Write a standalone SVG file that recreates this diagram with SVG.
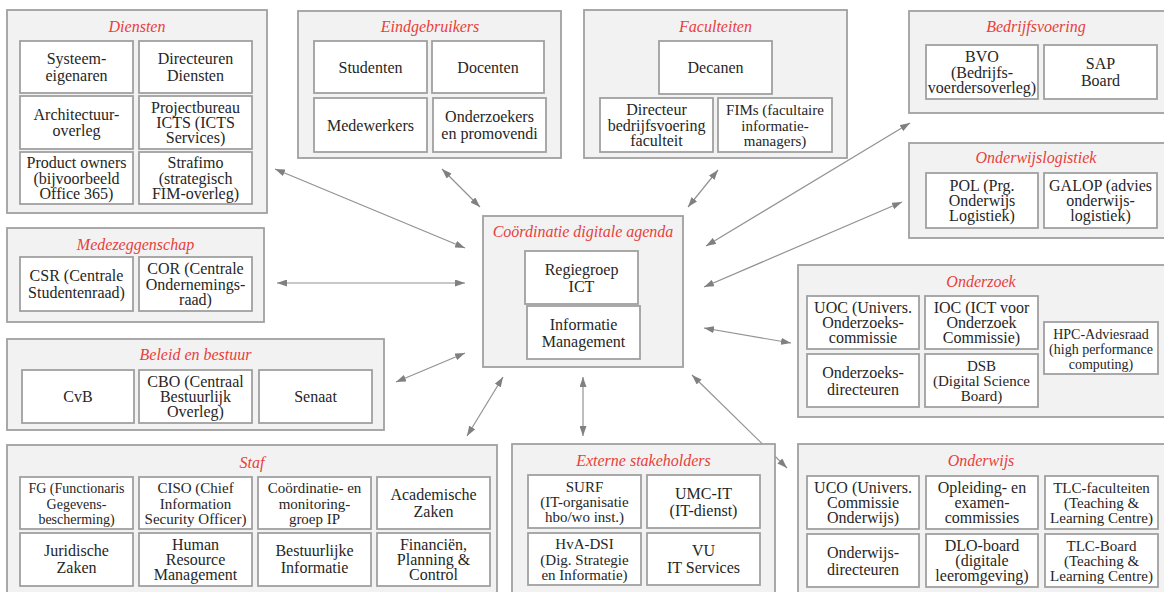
<svg xmlns="http://www.w3.org/2000/svg" width="1164" height="592" viewBox="0 0 1164 592">
<defs>
<style>
.grp{fill:#f2f2f2;stroke:#a0a0a0;stroke-width:1.8}
.box{fill:#ffffff;stroke:#a0a0a0;stroke-width:1.8}
.t{font-family:"Liberation Serif","Times New Roman",serif;font-size:16px;fill:#262626;text-anchor:middle}
.s15{font-size:15px}
.s14{font-size:14px}
.h{font-family:"Liberation Serif","Times New Roman",serif;font-size:16px;font-style:italic;fill:#e8403c;text-anchor:middle}
.c{fill:none;stroke:#929292;stroke-width:1.2}
</style>
<marker id="ah" viewBox="0 0 10 7" refX="10" refY="3.5" markerWidth="10" markerHeight="7" markerUnits="userSpaceOnUse" orient="auto-start-reverse">
<path d="M0,0 L10,3.5 L0,7 z" fill="#808080"/>
</marker>
</defs>
<rect width="1164" height="592" fill="#ffffff"/>

<g id="connectors">
<line class="c" x1="275" y1="169" x2="465" y2="248" marker-start="url(#ah)" marker-end="url(#ah)"/>
<line class="c" x1="442" y1="169" x2="480" y2="207" marker-start="url(#ah)" marker-end="url(#ah)"/>
<line class="c" x1="718" y1="170" x2="688" y2="207" marker-start="url(#ah)" marker-end="url(#ah)"/>
<line class="c" x1="910" y1="123" x2="706" y2="246" marker-start="url(#ah)" marker-end="url(#ah)"/>
<line class="c" x1="902" y1="202" x2="704" y2="287" marker-start="url(#ah)" marker-end="url(#ah)"/>
<line class="c" x1="277" y1="283" x2="465" y2="283" marker-start="url(#ah)" marker-end="url(#ah)"/>
<line class="c" x1="396" y1="382" x2="465" y2="353" marker-start="url(#ah)" marker-end="url(#ah)"/>
<line class="c" x1="704" y1="328" x2="791" y2="343" marker-start="url(#ah)" marker-end="url(#ah)"/>
<line class="c" x1="503" y1="377" x2="467" y2="436" marker-start="url(#ah)" marker-end="url(#ah)"/>
<line class="c" x1="583" y1="377" x2="583" y2="436" marker-start="url(#ah)" marker-end="url(#ah)"/>
<line class="c" x1="692" y1="375" x2="787" y2="468" marker-start="url(#ah)" marker-end="url(#ah)"/>
</g>

<g id="diensten">
<rect class="grp" x="7" y="10" width="260" height="203"/>
<text class="h" x="137" y="32">Diensten</text>
<rect class="box" x="20" y="41" width="113" height="52"/>
<text class="t" x="76.5" y="64">Systeem-<tspan x="76.5" dy="17">eigenaren</tspan></text>
<rect class="box" x="139" y="41" width="113" height="52"/>
<text class="t" x="195.5" y="64">Directeuren<tspan x="195.5" dy="17">Diensten</tspan></text>
<rect class="box" x="20" y="96" width="113" height="53"/>
<text class="t" x="76.5" y="120">Architectuur-<tspan x="76.5" dy="16">overleg</tspan></text>
<rect class="box" x="139" y="96" width="113" height="53"/>
<text class="t" x="195.5" y="112.7">Projectbureau<tspan x="195.5" dy="15.3">ICTS (ICTS</tspan><tspan x="195.5" dy="15.3">Services)</tspan></text>
<rect class="box" x="20" y="152" width="113" height="52"/>
<text class="t" x="76.5" y="168.2">Product owners<tspan x="76.5" dy="15.3">(bijvoorbeeld</tspan><tspan x="76.5" dy="15.3">Office 365)</tspan></text>
<rect class="box" x="139" y="152" width="113" height="52"/>
<text class="t" x="195.5" y="168.2">Strafimo<tspan x="195.5" dy="15.3">(strategisch</tspan><tspan x="195.5" dy="15.3">FIM-overleg)</tspan></text>
</g>

<g id="eindgebruikers">
<rect class="grp" x="298" y="11" width="263" height="147"/>
<text class="h" x="430" y="32">Eindgebruikers</text>
<rect class="box" x="314" y="41" width="113" height="52"/>
<text class="t" x="370.5" y="72.5">Studenten</text>
<rect class="box" x="432" y="41" width="112" height="52"/>
<text class="t" x="488" y="72.5">Docenten</text>
<rect class="box" x="314" y="98" width="113" height="54"/>
<text class="t" x="370.5" y="130.5">Medewerkers</text>
<rect class="box" x="433" y="98" width="113" height="54"/>
<text class="t" x="489.5" y="122">Onderzoekers<tspan x="489.5" dy="17">en promovendi</tspan></text>
</g>

<g id="faculteiten">
<rect class="grp" x="584" y="10" width="263" height="148"/>
<text class="h" x="715.5" y="32">Faculteiten</text>
<rect class="box" x="659" y="41" width="113" height="53"/>
<text class="t" x="715.5" y="73">Decanen</text>
<rect class="box" x="600" y="98" width="113" height="54"/>
<text class="t" x="656.5" y="115.2">Directeur<tspan x="656.5" dy="15.3">bedrijfsvoering</tspan><tspan x="656.5" dy="15.3">faculteit</tspan></text>
<rect class="box" x="718" y="98" width="114" height="54"/>
<text class="t s15" x="775" y="115.2">FIMs (facultaire<tspan x="775" dy="15.3">informatie-</tspan><tspan x="775" dy="15.3">managers)</tspan></text>
</g>

<g id="bedrijfsvoering">
<rect class="grp" x="909" y="11" width="256" height="102"/>
<text class="h" x="1036" y="32">Bedrijfsvoering</text>
<rect class="box" x="926" y="45" width="112" height="54"/>
<text class="t" x="982" y="62.2">BVO<tspan x="982" dy="15.3">(Bedrijfs-</tspan><tspan x="982" dy="15.3">voerdersoverleg)</tspan></text>
<rect class="box" x="1044" y="45" width="113" height="54"/>
<text class="t" x="1100.5" y="69">SAP<tspan x="1100.5" dy="17">Board</tspan></text>
</g>

<g id="onderwijslogistiek">
<rect class="grp" x="909" y="143" width="256" height="95"/>
<text class="h" x="1036" y="163">Onderwijslogistiek</text>
<rect class="box" x="926" y="173" width="112" height="55"/>
<text class="t" x="982" y="190.7">POL (Prg.<tspan x="982" dy="15.3">Onderwijs</tspan><tspan x="982" dy="15.3">Logistiek)</tspan></text>
<rect class="box" x="1044" y="173" width="113" height="55"/>
<text class="t" x="1100.5" y="190.7">GALOP (advies<tspan x="1100.5" dy="15.3">onderwijs-</tspan><tspan x="1100.5" dy="15.3">logistiek)</tspan></text>
</g>

<g id="medezeggenschap">
<rect class="grp" x="7" y="228" width="257" height="94"/>
<text class="h" x="135.5" y="250">Medezeggenschap</text>
<rect class="box" x="20" y="257" width="113" height="54"/>
<text class="t" x="76.5" y="281">CSR (Centrale<tspan x="76.5" dy="17">Studentenraad)</tspan></text>
<rect class="box" x="139" y="257" width="113" height="54"/>
<text class="t" x="195.5" y="274.2">COR (Centrale<tspan x="195.5" dy="15.3">Ondernemings-</tspan><tspan x="195.5" dy="15.3">raad)</tspan></text>
</g>

<g id="beleid-en-bestuur">
<rect class="grp" x="7" y="339" width="377" height="91"/>
<text class="h" x="195.5" y="360">Beleid en bestuur</text>
<rect class="box" x="22" y="370" width="112" height="53"/>
<text class="t" x="78" y="402">CvB</text>
<rect class="box" x="139" y="370" width="113" height="53"/>
<text class="t" x="195.5" y="386.7">CBO (Centraal<tspan x="195.5" dy="15.3">Bestuurlijk</tspan><tspan x="195.5" dy="15.3">Overleg)</tspan></text>
<rect class="box" x="259" y="370" width="113" height="53"/>
<text class="t" x="315.5" y="402">Senaat</text>
</g>

<g id="coordinatie">
<rect class="grp" x="483" y="216" width="200" height="151"/>
<text class="h" x="583" y="237">Coördinatie digitale agenda</text>
<rect class="box" x="525" y="251" width="113" height="53"/>
<text class="t" x="581.5" y="274.5">Regiegroep<tspan x="581.5" dy="17">ICT</tspan></text>
<rect class="box" x="527" y="306" width="113" height="53"/>
<text class="t" x="583.5" y="329.5">Informatie<tspan x="583.5" dy="17">Management</tspan></text>
</g>

<g id="onderzoek">
<rect class="grp" x="798" y="265" width="367" height="152"/>
<text class="h" x="981" y="287">Onderzoek</text>
<rect class="box" x="807" y="296" width="112" height="53"/>
<text class="t" x="863" y="312.7">UOC (Univers.<tspan x="863" dy="15.3">Onderzoeks-</tspan><tspan x="863" dy="15.3">commissie</tspan></text>
<rect class="box" x="925" y="296" width="113" height="53"/>
<text class="t" x="981.5" y="312.7">IOC (ICT voor<tspan x="981.5" dy="15.3">Onderzoek</tspan><tspan x="981.5" dy="15.3">Commissie)</tspan></text>
<rect class="box" x="807" y="354" width="112" height="53"/>
<text class="t" x="863" y="377.5">Onderzoeks-<tspan x="863" dy="17">directeuren</tspan></text>
<rect class="box" x="925" y="354" width="113" height="53"/>
<text class="t s15" x="981.5" y="370.7">DSB<tspan x="981.5" dy="15.3">(Digital Science</tspan><tspan x="981.5" dy="15.3">Board)</tspan></text>
<rect class="box" x="1044" y="322" width="114" height="52"/>
<text class="t s14" x="1101" y="338.5">HPC-Adviesraad<tspan x="1101" dy="15">(high performance</tspan><tspan x="1101" dy="15">computing)</tspan></text>
</g>

<g id="staf">
<rect class="grp" x="7" y="445" width="490" height="152"/>
<text class="h" x="252" y="468">Staf</text>
<rect class="box" x="20" y="477" width="113" height="52"/>
<text class="t s14" x="76.5" y="493.2">FG (Functionaris<tspan x="76.5" dy="15.3">Gegevens-</tspan><tspan x="76.5" dy="15.3">bescherming)</tspan></text>
<rect class="box" x="139" y="477" width="113" height="52"/>
<text class="t s15" x="195.5" y="493.2">CISO (Chief<tspan x="195.5" dy="15.3">Information</tspan><tspan x="195.5" dy="15.3">Security Officer)</tspan></text>
<rect class="box" x="258" y="477" width="113" height="52"/>
<text class="t s15" x="314.5" y="493.2">Coördinatie- en<tspan x="314.5" dy="15.3">monitoring-</tspan><tspan x="314.5" dy="15.3">groep IP</tspan></text>
<rect class="box" x="377" y="477" width="113" height="52"/>
<text class="t" x="433.5" y="500">Academische<tspan x="433.5" dy="17">Zaken</tspan></text>
<rect class="box" x="20" y="533" width="113" height="53"/>
<text class="t" x="76.5" y="556">Juridische<tspan x="76.5" dy="17">Zaken</tspan></text>
<rect class="box" x="139" y="533" width="113" height="53"/>
<text class="t" x="195.5" y="549.7">Human<tspan x="195.5" dy="15.3">Resource</tspan><tspan x="195.5" dy="15.3">Management</tspan></text>
<rect class="box" x="258" y="533" width="113" height="53"/>
<text class="t" x="314.5" y="556">Bestuurlijke<tspan x="314.5" dy="17">Informatie</tspan></text>
<rect class="box" x="377" y="533" width="113" height="53"/>
<text class="t" x="433.5" y="549.7">Financiën,<tspan x="433.5" dy="15.3">Planning &amp;</tspan><tspan x="433.5" dy="15.3">Control</tspan></text>
</g>

<g id="externe-stakeholders">
<rect class="grp" x="512" y="444" width="263" height="153"/>
<text class="h" x="643.5" y="466">Externe stakeholders</text>
<rect class="box" x="528" y="475" width="113" height="53"/>
<text class="t s15" x="584.5" y="491.7">SURF<tspan x="584.5" dy="15.3">(IT-organisatie</tspan><tspan x="584.5" dy="15.3">hbo/wo inst.)</tspan></text>
<rect class="box" x="647" y="475" width="113" height="53"/>
<text class="t" x="703.5" y="498.5">UMC-IT<tspan x="703.5" dy="17">(IT-dienst)</tspan></text>
<rect class="box" x="528" y="533" width="113" height="52"/>
<text class="t s15" x="584.5" y="549.2">HvA-DSI<tspan x="584.5" dy="15.3">(Dig. Strategie</tspan><tspan x="584.5" dy="15.3">en Informatie)</tspan></text>
<rect class="box" x="647" y="533" width="113" height="52"/>
<text class="t" x="703.5" y="556">VU<tspan x="703.5" dy="17">IT Services</tspan></text>
</g>

<g id="onderwijs">
<rect class="grp" x="798" y="444" width="367" height="153"/>
<text class="h" x="981" y="466">Onderwijs</text>
<rect class="box" x="807" y="476" width="112" height="53"/>
<text class="t" x="863" y="492.7">UCO (Univers.<tspan x="863" dy="15.3">Commissie</tspan><tspan x="863" dy="15.3">Onderwijs)</tspan></text>
<rect class="box" x="926" y="476" width="112" height="53"/>
<text class="t" x="982" y="492.7">Opleiding- en<tspan x="982" dy="15.3">examen-</tspan><tspan x="982" dy="15.3">commissies</tspan></text>
<rect class="box" x="1045" y="476" width="113" height="53"/>
<text class="t s15" x="1101.5" y="492.7">TLC-faculteiten<tspan x="1101.5" dy="15.3">(Teaching &amp;</tspan><tspan x="1101.5" dy="15.3">Learning Centre)</tspan></text>
<rect class="box" x="807" y="534" width="112" height="53"/>
<text class="t" x="863" y="557.5">Onderwijs-<tspan x="863" dy="17">directeuren</tspan></text>
<rect class="box" x="926" y="534" width="112" height="53"/>
<text class="t" x="982" y="550.7">DLO-board<tspan x="982" dy="15.3">(digitale</tspan><tspan x="982" dy="15.3">leeromgeving)</tspan></text>
<rect class="box" x="1045" y="534" width="113" height="53"/>
<text class="t s15" x="1101.5" y="550.7">TLC-Board<tspan x="1101.5" dy="15.3">(Teaching &amp;</tspan><tspan x="1101.5" dy="15.3">Learning Centre)</tspan></text>
</g>
</svg>
